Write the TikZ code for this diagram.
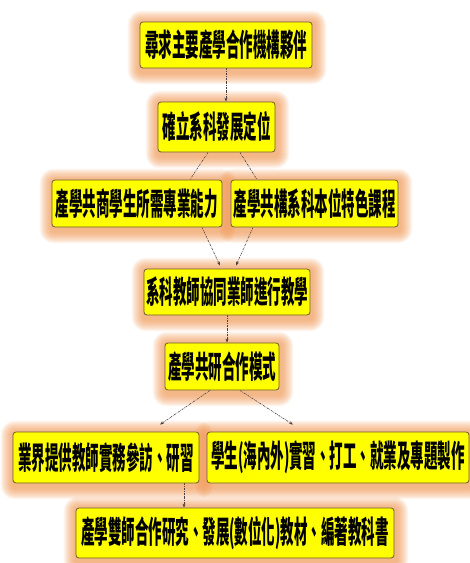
\documentclass[tikz,border=0pt]{standalone}
\usepackage{fontspec}
\newfontfamily\cjk{Noto Sans CJK TC}
\usetikzlibrary{arrows.meta,backgrounds,calc}
\definecolor{boxyellow}{HTML}{FFFF00}
\definecolor{boxedge}{HTML}{6E5B2C}
\definecolor{glowc}{HTML}{EF9550}
\definecolor{linkc}{HTML}{4A4040}
\newcommand\lbl[1]{\raisebox{-2pt}{\scalebox{1}[2.3]{#1}}}
\tikzset{
  box/.style={draw=boxedge, line width=0.8pt, fill=boxyellow, rounded corners=3pt,
    inner sep=0pt, font=\cjk\bfseries\fontsize{13.5}{14}\selectfont},
  link/.style={draw=linkc, line width=0.6pt, dash pattern=on 2pt off 1pt on 0.6pt off 1pt},
  arr/.style={link, -{Stealth[length=4pt,width=3pt]}},
}
\begin{document}
\begin{tikzpicture}[x=1pt,y=-1pt]
\useasboundingbox (0,0) rectangle (470,563);
\node[box, minimum width=172pt, minimum height=46pt] (b1) at (226,45) {\lbl{尋求主要產學合作機構夥伴}};
\node[box, minimum width=117pt, minimum height=50pt] (b2) at (216.5,127) {\lbl{確立系科發展定位}};
\node[box, minimum width=170pt, minimum height=47pt] (b3) at (137,203.5) {\lbl{產學共商學生所需專業能力}};
\node[box, minimum width=167pt, minimum height=47pt] (b4) at (314.5,203.5) {\lbl{產學共構系科本位特色課程}};
\node[box, minimum width=166pt, minimum height=46pt] (b5) at (227,292) {\lbl{系科教師協同業師進行教學}};
\node[box, minimum width=114pt, minimum height=47pt] (b6) at (222,366.5) {\lbl{產學共研合作模式}};
\node[box, minimum width=186pt, minimum height=51pt] (b7) at (106,457.5) {\lbl{業界提供教師實務參訪、研習}};
\node[box, minimum width=262pt, minimum height=51pt] (b8) at (338,457.5) {\lbl{學生(海內外)實習、打工、就業及專題製作}};
\node[box, minimum width=318pt, minimum height=50pt] (b9) at (235,533) {\lbl{產學雙師合作研究、發展(數位化)教材、編著教科書}};
\begin{scope}[on background layer]
  \foreach \n in {b1,b2,b3,b4,b5,b6,b7,b8,b9} {
    \foreach \k in {1,...,14} {
      \pgfmathsetmacro\d{\k*0.85}
      \fill[glowc, opacity=0.08, rounded corners={\d pt+2pt}]
        ([xshift={-\d pt}, yshift={-\d pt-4pt}]\n.south west) rectangle
        ([xshift={\d pt+2pt}, yshift={\d pt-1pt}]\n.north east);
    }
  }
  \draw[arr] ([xshift=0pt]b1.south) -- (b1.south |- b2.north);
  \draw[link] ([xshift=-8.5pt]b2.south) -- ([xshift=53pt]b3.north);
  \draw[link] ([xshift=23.5pt]b2.south) -- ([xshift=-57.5pt]b4.north);
  \draw[arr] ([xshift=65pt]b3.south) -- ([xshift=-7pt,yshift=3pt]b5.north);
  \draw[arr] ([xshift=-61.5pt]b4.south) -- ([xshift=9pt,yshift=3pt]b5.north);
  \draw[arr] (b5.south) -- (b5.south |- b6.north);
  \draw[arr] ([xshift=-12pt]b6.south) -- ([xshift=54pt,yshift=7pt]b7.north);
  \draw[arr] ([xshift=18pt]b6.south) -- ([xshift=-45pt,yshift=7pt]b8.north);
  \draw[arr] ([xshift=78pt]b7.south) -- ([xshift=78pt]b7.south |- b9.north);
\end{scope}
\end{tikzpicture}
\end{document}
